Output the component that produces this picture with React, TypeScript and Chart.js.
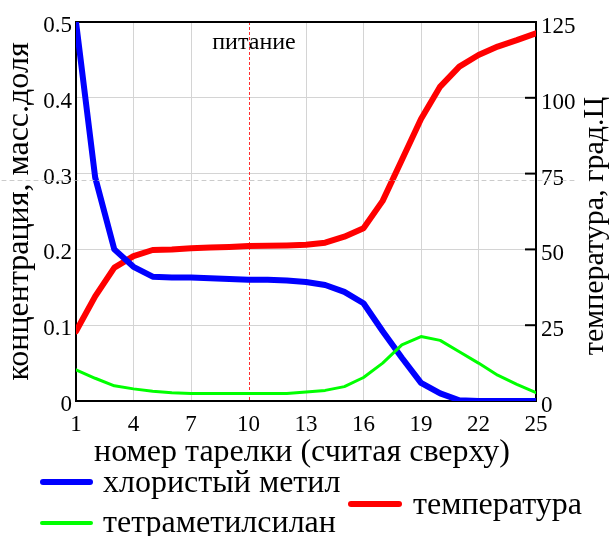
import React, { useEffect, useRef } from "react";
import { Chart, registerables } from "chart.js";

Chart.register(...registerables);

// ---- data ----
const trays = [1, 2, 3, 4, 5, 6, 7, 8, 9, 10, 11, 12, 13, 14, 15, 16, 17, 18, 19, 20, 21, 22, 23, 24, 25];
const methylChloride = [0.5, 0.295, 0.2, 0.177, 0.164, 0.163, 0.163, 0.162, 0.161, 0.16, 0.16, 0.159, 0.157, 0.153, 0.144, 0.129, 0.092, 0.057, 0.024, 0.01, 0.001, 0, 0, 0, 0];
const tetramethylsilane = [0.041, 0.03, 0.02, 0.016, 0.013, 0.011, 0.01, 0.01, 0.01, 0.01, 0.01, 0.01, 0.012, 0.014, 0.019, 0.031, 0.05, 0.074, 0.085, 0.08, 0.065, 0.05, 0.034, 0.022, 0.011];
const temperature = [23, 34.5, 44, 47.8, 49.8, 50, 50.4, 50.6, 50.8, 51.1, 51.2, 51.3, 51.5, 52.2, 54.2, 57, 66, 79.5, 93, 103.7, 110.3, 114.1, 116.9, 119, 121.3];

const xTickValues = [1, 4, 7, 10, 13, 16, 19, 22, 25];
const concTicks = [0, 0.1, 0.2, 0.3, 0.4, 0.5];
const tempTicks = [0, 25, 50, 75, 100, 125];
const feedTray = 10;
const feedLabel = "питание";
const seriesLabels = ["хлористый метил", "тетраметилсилан", "температура"];
const seriesColors = ["#0000ff", "#00ff00", "#ff0000"];
const xTitle = "номер тарелки (считая сверху)";
const yTitle = "концентрация, масс.доля";
const y2Title = "температура, град.Ц";

const SERIF = '"Liberation Serif", "DejaVu Serif", serif';

const decor = {
  id: "decor",
  beforeDatasetsDraw(chart: any) {
    const { ctx, chartArea: a, scales } = chart;
    ctx.save();
    // feed tray marker
    const fx = Math.round(scales.x.getPixelForValue(feedTray));
    ctx.fillStyle = "#ff3030";
    for (let y = a.top; y < a.bottom; y += 5) {
      ctx.fillRect(fx, y, 1, 3);
    }
    // frame
    ctx.strokeStyle = "#000";
    ctx.lineWidth = 2;
    ctx.strokeRect(a.left, a.top, a.right - a.left, a.bottom - a.top);
    // inward ticks on right axis
    tempTicks.forEach((v) => {
      const py = scales.y2.getPixelForValue(v);
      ctx.beginPath();
      ctx.moveTo(a.right - 11, py);
      ctx.lineTo(a.right, py);
      ctx.stroke();
    });
    ctx.restore();
  },
  afterDraw(chart: any) {
    const { ctx, chartArea: a, scales } = chart;
    ctx.save();
    ctx.fillStyle = "#000";
    // feed label
    ctx.font = `24px ${SERIF}`;
    ctx.textAlign = "center";
    ctx.textBaseline = "alphabetic";
    ctx.fillText(feedLabel, scales.x.getPixelForValue(feedTray) + 5.5, a.top + 27);
    // x title
    ctx.font = `32px ${SERIF}`;
    ctx.fillText(xTitle, 302, 461);
    // left title
    ctx.save();
    ctx.translate(28, (a.top + a.bottom) / 2);
    ctx.rotate(-Math.PI / 2);
    ctx.fillText(yTitle, 0, 0);
    ctx.restore();
    // right title
    ctx.save();
    ctx.font = `30px ${SERIF}`;
    ctx.translate(603, 226);
    ctx.rotate(-Math.PI / 2);
    ctx.fillText(y2Title, 0, 0);
    ctx.restore();
    // legend
    const items = [
      { i: 0, x1: 40, x2: 93, ly: 482, tx: 103, ty: 492, w: 6 },
      { i: 1, x1: 40, x2: 93, ly: 523, tx: 103, ty: 532, w: 4 },
      { i: 2, x1: 348, x2: 402, ly: 504, tx: 413, ty: 514, w: 6 },
    ];
    ctx.font = `32px ${SERIF}`;
    ctx.textAlign = "left";
    ctx.textBaseline = "alphabetic";
    items.forEach(({ i, x1, x2, ly, tx, ty, w }) => {
      const ds = chart.data.datasets[i];
      ctx.strokeStyle = ds.borderColor;
      ctx.lineWidth = w;
      ctx.lineCap = "round";
      ctx.beginPath();
      ctx.moveTo(x1 + w / 2, ly);
      ctx.lineTo(x2 - w / 2, ly);
      ctx.stroke();
      ctx.fillStyle = "#000";
      ctx.fillText(ds.label, tx, ty);
    });
    // faint dashed artifact line
    const gy = Math.round(scales.y.getPixelForValue(0.292)) + 0.5;
    ctx.strokeStyle = "rgba(190,190,190,0.8)";
    ctx.lineWidth = 1;
    ctx.setLineDash([4, 4]);
    ctx.beginPath();
    ctx.moveTo(2, gy);
    ctx.lineTo(578, gy);
    ctx.stroke();
    ctx.restore();
  },
};

export default function App() {
  const ref = useRef<HTMLCanvasElement | null>(null);
  useEffect(() => {
    document.body.style.margin = "0";
    const canvas = ref.current!;
    const mk = (vals: number[]) => trays.map((t, i) => ({ x: t, y: vals[i] }));
    const gridColor = (c: any) => (c.tick && c.tick.value === feedTray ? "rgba(0,0,0,0)" : "#d4d4d4");
    const chart = new Chart(canvas, {
      type: "line",
      data: {
        datasets: [
          { label: seriesLabels[0], data: mk(methylChloride), borderColor: seriesColors[0], borderWidth: 6, yAxisID: "y", order: 1 },
          { label: seriesLabels[1], data: mk(tetramethylsilane), borderColor: seriesColors[1], borderWidth: 3, yAxisID: "y", order: 0 },
          { label: seriesLabels[2], data: mk(temperature), borderColor: seriesColors[2], borderWidth: 6, yAxisID: "y2", order: 2 },
        ] as any,
      },
      options: {
        animation: false,
        responsive: false,
        devicePixelRatio: 1,
        layout: { padding: { top: 22, left: 0, right: 0, bottom: 0 } },
        elements: { point: { radius: 0 }, line: { tension: 0, borderCapStyle: "round", borderJoinStyle: "round" } },
        plugins: { legend: { display: false }, tooltip: { enabled: false } },
        scales: {
          x: {
            type: "linear",
            min: 1,
            max: 25,
            afterBuildTicks: (s: any) => { s.ticks = xTickValues.map((v) => ({ value: v })); },
            afterFit: (s: any) => { s.height = 135; },
            grid: { color: gridColor, lineWidth: 1, drawTicks: false },
            border: { display: false },
            ticks: { color: "#000", font: { family: SERIF, size: 23 }, padding: 10, maxRotation: 0, autoSkip: false },
          },
          y: {
            type: "linear",
            position: "left",
            min: 0,
            max: 0.5,
            afterBuildTicks: (s: any) => { s.ticks = concTicks.map((v) => ({ value: v })); },
            afterFit: (s: any) => { s.width = 76; },
            grid: { color: "#d4d4d4", lineWidth: 1, drawTicks: false },
            border: { display: false },
            ticks: {
              color: "#000",
              font: { family: SERIF, size: 23 },
              padding: 4,
              labelOffset: 4,
              callback: (v: any) => (v === 0 ? "0" : Number(v).toFixed(1)),
            },
          },
          y2: {
            type: "linear",
            position: "right",
            min: 0,
            max: 125,
            afterBuildTicks: (s: any) => { s.ticks = tempTicks.map((v) => ({ value: v })); },
            afterFit: (s: any) => { s.width = 76; },
            grid: { drawOnChartArea: false, drawTicks: false },
            border: { display: false },
            ticks: { color: "#000", font: { family: SERIF, size: 23 }, padding: 5, labelOffset: 5 },
          },
        },
      } as any,
      plugins: [decor],
    });
    return () => chart.destroy();
  }, []);
  return <canvas ref={ref} width={612} height={536} style={{ display: "block", width: 612, height: 536 }} />;
}
